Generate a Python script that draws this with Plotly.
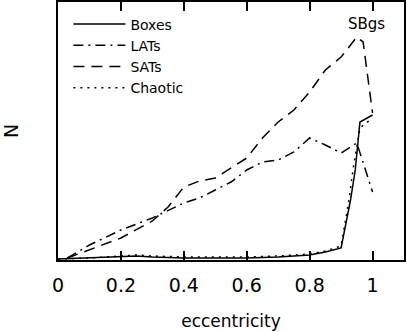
"""Eccentricity distribution of orbit families."""

import plotly.graph_objects as go

FONT = 'DejaVu Sans'

# eccentricity grids and counts (arbitrary units)
ecc_boxes = [0.0, 0.1, 0.2, 0.25, 0.3, 0.4, 0.5, 0.6, 0.7, 0.8, 0.85, 0.9, 0.93, 0.945, 0.96, 1.0]
n_boxes = [1, 2, 3, 4, 3, 2, 2, 2, 3, 5, 8, 12, 60, 90, 138, 145]

ecc_chaotic = [0.0, 0.1, 0.2, 0.25, 0.3, 0.4, 0.5, 0.6, 0.7, 0.8, 0.85, 0.9, 0.925, 0.94, 0.96, 1.0]
n_chaotic = [1, 2, 4, 5, 4, 3, 3, 3, 4, 6, 9, 14, 60, 95, 132, 142]

ecc_lats = [0.03, 0.1, 0.2, 0.3, 0.4, 0.45, 0.5, 0.55, 0.6, 0.65, 0.7, 0.75, 0.8, 0.85, 0.9, 0.95, 1.0]
n_lats = [2, 15, 30, 42, 57, 62, 70, 78, 90, 98, 100, 108, 122, 115, 107, 117, 68]

ecc_sats = [0.03, 0.1, 0.2, 0.3, 0.35, 0.4, 0.45, 0.5, 0.55, 0.6, 0.65, 0.7, 0.75, 0.8, 0.85, 0.9, 0.95, 0.97, 1.0]
n_sats = [2, 10, 22, 39, 53, 73, 79, 82, 92, 102, 122, 138, 150, 168, 190, 203, 223, 218, 147]

x_ticks = [0, 0.2, 0.4, 0.6, 0.8, 1]
x_tick_labels = ['0', '0.2', '0.4', '0.6', '0.8', '1']

series = [
    ('Boxes', ecc_boxes, n_boxes, 'solid'),
    ('LATs', ecc_lats, n_lats, '10px,5px,2px,5px'),
    ('SATs', ecc_sats, n_sats, '11px,7px'),
    ('Chaotic', ecc_chaotic, n_chaotic, '2px,5px'),
]

fig = go.Figure()

for name, x, y, dash in series:
    fig.add_trace(go.Scatter(
        x=x,
        y=y,
        mode='lines',
        name=name,
        line=dict(color='black', width=1.5, dash=dash),
    ))

fig.add_annotation(
    x=0.98, y=236, text='SBgs', showarrow=False,
    font=dict(family=FONT, size=15, color='black'),
)

fig.update_layout(
    width=407,
    height=331,
    margin=dict(l=58, r=3, t=2, b=71),
    plot_bgcolor='white',
    paper_bgcolor='white',
    font=dict(family=FONT, color='black'),
    showlegend=True,
    legend=dict(
        x=0.03, y=0.975, xanchor='left', yanchor='top',
        bgcolor='rgba(0,0,0,0)',
        font=dict(family=FONT, size=14, color='black'),
        itemwidth=52,
        tracegroupgap=0,
    ),
    xaxis=dict(
        range=[0, 1.1],
        tickvals=x_ticks,
        ticktext=x_tick_labels,
        ticks='inside',
        ticklen=9,
        tickwidth=1.5,
        tickcolor='black',
        tickfont=dict(family=FONT, size=19),
        ticklabelstandoff=7,
        showline=True,
        linecolor='black',
        linewidth=1.5,
        mirror='allticks',
        showgrid=False,
        zeroline=False,
        automargin=False,
        title=dict(text='eccentricity', font=dict(family=FONT, size=17), standoff=22),
    ),
    yaxis=dict(
        range=[0, 258],
        showticklabels=False,
        ticks='',
        showline=True,
        linecolor='black',
        linewidth=1.5,
        mirror=True,
        showgrid=False,
        zeroline=False,
        automargin=False,
        title=dict(text='N', font=dict(family=FONT, size=19), standoff=34),
    ),
)

# drop the default body margin so the figure sits at the page corner
fig.write_html(
    "out.html",
    config={'displayModeBar': False},
    post_script="document.body.style.margin = '0';",
)
